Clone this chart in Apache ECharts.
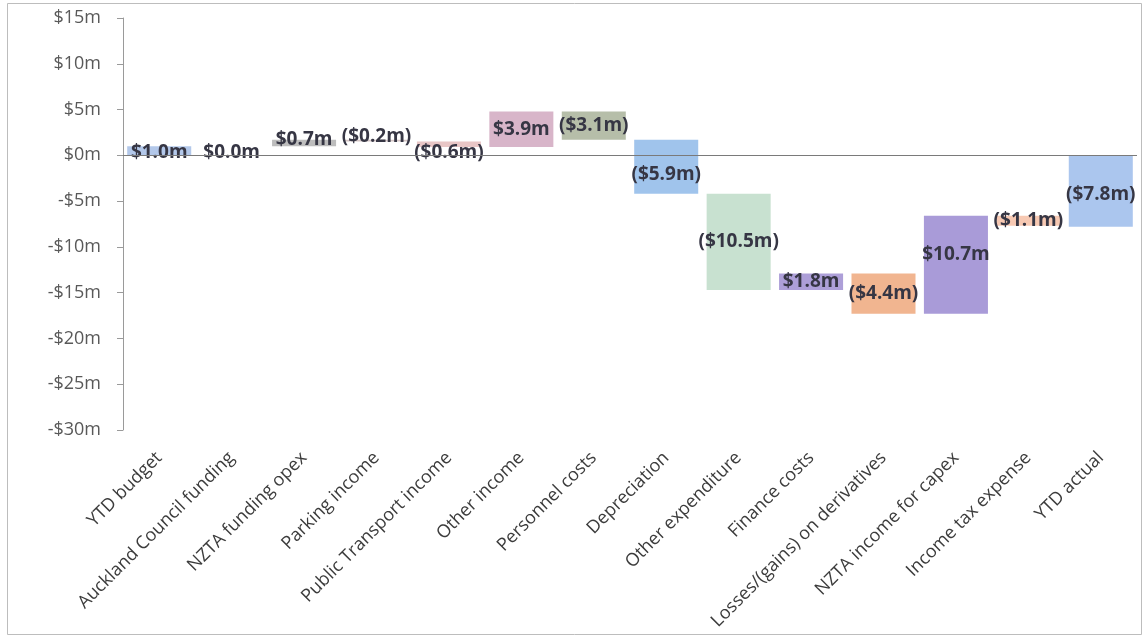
<!DOCTYPE html>
<html>
<head>
<meta charset="utf-8">
<title>YTD budget to YTD actual</title>
<script src="https://cdn.jsdelivr.net/npm/echarts@6/dist/echarts.min.js"></script>
<style>
  html, body { margin: 0; padding: 0; background: #ffffff; }
  #chart { width: 1144px; height: 639px; }
</style>
</head>
<body>
<div id="chart"></div>
<script>
// Waterfall steps from YTD budget to YTD actual ($m)
const categories = [
  'YTD budget', 'Auckland Council funding', 'NZTA funding opex', 'Parking income',
  'Public Transport income', 'Other income', 'Personnel costs', 'Depreciation',
  'Other expenditure', 'Finance costs', 'Losses/(gains) on derivatives',
  'NZTA income for capex', 'Income tax expense', 'YTD actual'
];
const changes = [1.0, 0.0, 0.7, -0.2, -0.6, 3.9, -3.1, -5.9, -10.5, 1.8, -4.4, 10.7, -1.1, -7.8];
// first and last bars are totals measured from zero
const isTotal = [true, false, false, false, false, false, false, false, false, false, false, false, false, true];
const yTicks = { min: -30, max: 15, step: 5 };

// fill colour for each bar
const barColors = [
  '#b3c8ea', '#c9c9c9', '#bdbdbd', '#d6c7c7', '#e8c6c6', '#d8b5c9', '#b6bea9',
  '#a0c4ec', '#c8e1d0', '#ad9fd8', '#f1b590', '#a99bd8', '#f7c9b3', '#abc6ee'
];
// small vertical nudges (px) for some value labels
const labelNudge = { 0: 2, 1: 6, 2: -3, 3: -4, 4: 8, 7: 8, 11: -10, 13: 4 };

// running start/end of each step
const spans = [];
let level = 0;
changes.forEach((v, i) => {
  if (isTotal[i]) {
    spans.push([i, 0, v, v]);
    level = v;
  } else {
    spans.push([i, level, level + v, v]);
    level = level + v;
  }
});

function money(v) {
  const s = '$' + Math.abs(v).toFixed(1) + 'm';
  return v < 0 ? '(' + s + ')' : s;
}

const chart = echarts.init(document.getElementById('chart'), null, { renderer: 'canvas' });

chart.setOption({
  backgroundColor: '#ffffff',
  animation: false,
  graphic: [{
    type: 'rect',
    shape: { x: 7.5, y: 3.5, width: 1134, height: 631 },
    style: { fill: 'none', stroke: '#bdbdbd', lineWidth: 1 },
    silent: true,
    z: -1
  }],
  grid: { left: 123, right: 7, top: 18, bottom: 209 },
  xAxis: {
    type: 'category',
    data: categories,
    axisLine: { show: false, onZero: false },
    axisTick: { show: false },
    axisLabel: {
      interval: 0,
      rotate: 45,
      margin: 25,
      fontFamily: 'Open Sans',
      fontSize: 18,
      color: '#3c3c3c'
    },
    splitLine: { show: false }
  },
  yAxis: {
    type: 'value',
    min: yTicks.min,
    max: yTicks.max,
    interval: yTicks.step,
    axisLine: { show: true, lineStyle: { color: '#9a9a9a', width: 1 } },
    axisTick: { show: true, length: 6, lineStyle: { color: '#9a9a9a' } },
    axisLabel: {
      margin: 22,
      fontFamily: 'Open Sans',
      fontSize: 18,
      color: '#595959',
      formatter: v => (v < 0 ? '-$' + (-v) : '$' + v) + 'm'
    },
    splitLine: { show: false }
  },
  series: [{
    type: 'custom',
    data: spans,
    encode: { x: 0, y: [1, 2] },
    renderItem: function (params, api) {
      const idx = api.value(0);
      const from = api.value(1);
      const to = api.value(2);
      const val = api.value(3);
      const pFrom = api.coord([idx, from]);
      const pTo = api.coord([idx, to]);
      const band = api.size([1, 0])[0];
      const w = band * 0.884;
      const top = Math.min(pFrom[1], pTo[1]);
      const h = Math.abs(pFrom[1] - pTo[1]);
      const cx = pFrom[0];
      const cy = top + h / 2 + (labelNudge[idx] || 0);
      return {
        type: 'group',
        children: [{
          type: 'rect',
          shape: { x: cx - w / 2, y: top, width: w, height: h },
          style: { fill: barColors[idx] }
        }, {
          type: 'text',
          z2: 10,
          style: {
            x: cx,
            y: cy,
            text: money(val),
            align: 'center',
            verticalAlign: 'middle',
            fontFamily: 'Open Sans',
            fontWeight: 'bold',
            fontSize: 19,
            fill: '#363644'
          }
        }]
      };
    },
    markLine: {
      silent: true,
      symbol: ['none', 'none'],
      label: { show: false },
      lineStyle: { color: '#7a7a7a', width: 1, type: 'solid' },
      data: [{ yAxis: 0 }]
    }
  }]
});
</script>
</body>
</html>
